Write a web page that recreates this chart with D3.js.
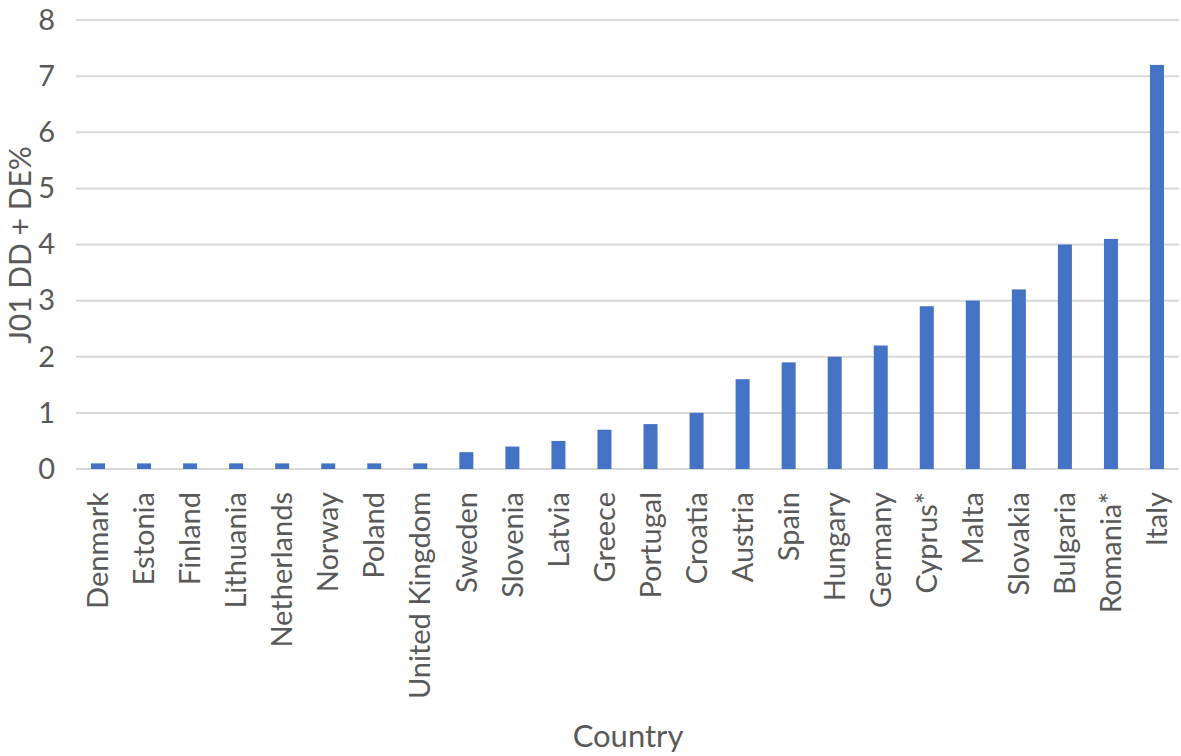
<!DOCTYPE html>
<html>
<head>
<meta charset="utf-8">
<script src="https://cdn.jsdelivr.net/npm/d3@7"></script>
<style>
  body { margin: 0; background: #fff; }
  svg text { font-family: Lato, "Open Sans", sans-serif; fill: #595959; }
</style>
</head>
<body>
<svg id="chart"></svg>
<script>
// country names along the x axis
let countries = ["Denmark", "Estonia", "Finland", "Lithuania", "Netherlands", "Norway",
    "Poland", "United Kingdom", "Sweden", "Slovenia", "Latvia", "Greece", "Portugal",
    "Croatia", "Austria", "Spain", "Hungary", "Germany", "Cyprus*", "Malta", "Slovakia",
    "Bulgaria", "Romania*", "Italy"];
// J01 DD + DE% per country
let values = [0.1, 0.1, 0.1, 0.1, 0.1, 0.1, 0.1, 0.1, 0.3, 0.4, 0.5, 0.7, 0.8,
    1.0, 1.6, 1.9, 2.0, 2.2, 2.9, 3.0, 3.2, 4.0, 4.1, 7.2];
let yTicks = [0, 1, 2, 3, 4, 5, 6, 7, 8];

let width = 1181;
let height = 756;
let margin = {top: 20, right: 2, bottom: 287, left: 76};

let svg = d3.select("#chart")
    .attr("width", width)
    .attr("height", height);

let x = d3.scaleBand()
    .domain(countries)
    .range([margin.left, width - margin.right])
    .paddingInner(0.696)
    .paddingOuter(0.326);

let y = d3.scaleLinear()
    .domain([0, 8])
    .range([height - margin.bottom, margin.top]);

// gridlines
svg.append("g")
    .selectAll("line")
    .data(yTicks)
    .enter()
    .append("line")
    .attr("x1", margin.left)
    .attr("x2", width - margin.right)
    .attr("y1", d => y(d))
    .attr("y2", d => y(d))
    .attr("stroke", "#d9d9d9")
    .attr("stroke-width", 2);

// bars
svg.append("g")
    .selectAll("rect")
    .data(countries)
    .enter()
    .append("rect")
    .attr("x", d => x(d))
    .attr("width", x.bandwidth())
    .attr("y", (d, i) => y(values[i]))
    .attr("height", (d, i) => y(0) - y(values[i]))
    .attr("fill", "#4472c4");

// y axis labels
let yAxis = svg.append("g")
    .attr("transform", "translate(" + (margin.left - 18) + ",0)")
    .call(d3.axisLeft(y).tickValues(yTicks).tickSize(0).tickFormat(d3.format("d")));
yAxis.select(".domain").remove();
yAxis.selectAll("text")
    .attr("font-size", "29px")
    .style("font-family", "Lato, sans-serif")
    .attr("fill", "#595959");

// x axis labels, rotated
let xAxis = svg.append("g")
    .attr("transform", "translate(0," + (y(0) + 23) + ")")
    .call(d3.axisBottom(x).tickSize(0).tickPadding(0));
xAxis.select(".domain").remove();
xAxis.selectAll("text")
    .attr("font-size", "29px")
    .style("font-family", "Lato, sans-serif")
    .attr("fill", "#595959")
    .attr("text-anchor", "end")
    .attr("dy", "0.35em")
    .attr("transform", "rotate(-90)");

// axis titles
svg.append("text")
    .attr("x", 628)
    .attr("y", 747)
    .attr("text-anchor", "middle")
    .attr("font-size", "31px")
    .text("Country");

svg.append("text")
    .attr("transform", "translate(31,245) rotate(-90)")
    .attr("text-anchor", "middle")
    .attr("font-size", "30px")
    .text("J01 DD + DE%");
</script>
</body>
</html>
